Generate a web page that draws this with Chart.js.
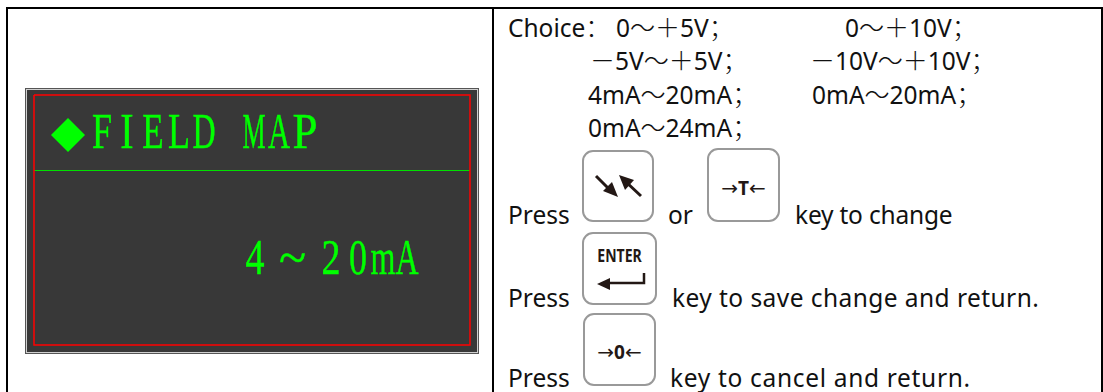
<!DOCTYPE html>
<html lang="en">
  <head>
    <meta charset="UTF-8" />
    <title>Field Map</title>
    <script src="https://cdn.jsdelivr.net/npm/chart.js"></script>
    <style>
      html, body {
        margin: 0;
        width: 1103px;
        height: 392px;
        overflow: hidden;
        background: #fff;
      }
      .rule { position: absolute; background: #000; }
      .txt {
        position: absolute;
        white-space: pre;
        line-height: 30px;
        height: 30px;
        font-family: "Noto Sans", "Noto Sans CJK SC", sans-serif;
        font-size: 24.5px;
        color: #111;
      }
      .txt .w { font-family: "Noto Sans CJK SC"; font-weight: 300; font-size: 25px; line-height: 20px; }
      #panel {
        position: absolute;
        left: 25px;
        top: 88px;
        width: 454px;
        height: 266px;
      }
      #panel canvas { position: absolute; left: 0; top: 0; }
      .lcd {
        position: absolute;
        left: 0;
        color: #00ff00;
        font-family: "Liberation Serif", serif;
        font-size: 50px;
        line-height: 50px;
        height: 50px;
        white-space: pre;
        -webkit-text-stroke: 0.5px #00ff00;
      }
      .lcd span { position: absolute; top: 0; width: 60px; margin-left: -30px; text-align: center; }
      .key {
        position: absolute;
        box-sizing: border-box;
        border: 2px solid #999;
        border-radius: 11px;
        background: #fff;
      }
      .key svg { position: absolute; left: -2px; top: -2px; overflow: visible; }
      .cap {
        position: absolute;
        left: 0;
        right: 0;
        text-align: center;
        white-space: pre;
        color: #231815;
        font-family: "Noto Sans", sans-serif;
        font-weight: 700;
      }
      .cap i { font: normal 20px "DejaVu Sans"; }
    </style>
  </head>
  <body>
    <div id="frame"></div>

    <!-- LCD screen -->
    <div id="panel"><canvas id="lcdChart" width="454" height="266"></canvas></div>

    <!-- Key caps -->
    <div class="key" style="left:582px;top:150px;width:72px;height:72px">
      <svg width="72" height="72">
        <path d="M14 26 L30 42" stroke="#231815" stroke-width="3" />
        <path d="M36 47 L21 41 L30 32 Z" fill="#231815" />
        <path d="M59 46 L43 31" stroke="#231815" stroke-width="3" />
        <path d="M37 25 L52 30 L43 40 Z" fill="#231815" />
      </svg>
    </div>
    <div class="key" style="left:707px;top:148px;width:73px;height:74px">
      <div class="cap" style="top:26px;font-size:19px;line-height:24px"><i>→</i>T<i>←</i></div>
    </div>
    <div class="key" style="left:582px;top:232px;width:75px;height:73px">
      <div class="cap" style="top:9px;font-size:18px;line-height:24px;transform:scaleX(.78)">ENTER</div>
      <svg width="75" height="73">
        <path d="M62 41 V51 H24" fill="none" stroke="#231815" stroke-width="2.5" />
        <path d="M15 52 L28 46 V58 Z" fill="#231815" />
      </svg>
    </div>
    <div class="key" style="left:583px;top:313px;width:73px;height:73px">
      <div class="cap" style="top:24px;font-size:19px;line-height:26px"><i>→</i>0<i>←</i></div>
    </div>

    <script>
      // Screen content
      const titleMarker = [{ x: 68, y: 135 }];
      const titleText = "FIELD MAP";
      const titleCenters = [102, 126.5, 152.5, 179, 203.5, 228, 253.5, 279, 304.5];
      const titleStretch = [0.72, 0.8, 0.7, 0.72, 0.64, 1, 0.52, 0.61, 0.9];
      const valueText = "4~20mA";
      const valueCenters = [254.5, 292.5, 330.5, 358, 382.5, 406.5];
      const valueStretch = [0.76, 1, 0.76, 0.72, 0.64, 0.64];

      // Page coordinates, the chart scales below run in the same numbers
      const redBoxX = [34, 470, 470, 34, 34];
      const redBoxY = [95, 95, 345, 345, 95];
      const dividerX = [34, 470];
      const dividerY = [170.5, 170.5];

      // Right hand column: text, left, baseline, letter spacing
      const choiceLines = [
        ["Choice<w>：</w>", 508, 37, 0],
        ["0<w>～＋</w>5V<w>；</w>", 616, 37, 0],
        ["0<w>～＋</w>10V<w>；</w>", 845, 37, 0],
        ["<w>－</w>5V<w>～＋</w>5V<w>；</w>", 590, 70, 0],
        ["<w>－</w>10V<w>～＋</w>10V<w>；</w>", 810, 70, 0],
        ["4mA<w>～</w>20mA<w>；</w>", 588, 104, 0],
        ["0mA<w>～</w>20mA<w>；</w>", 812, 104, 0],
        ["0mA<w>～</w>24mA<w>；</w>", 588, 137, 0],
        ["Press", 508, 224, 0],
        ["or", 668, 224, 0],
        ["key to change", 795, 224, -0.2],
        ["Press", 508, 307, 0],
        ["key to save change and return.", 672, 307, 0.44],
        ["Press", 508, 387, 0],
        ["key to cancel and return.", 670, 387, 0.68],
      ];

      // Table rules: left, top, width, height
      const tableRules = [
        [6, 7, 1097, 2],
        [6, 7, 2, 385],
        [492, 7, 2, 385],
        [1101, 7, 2, 385],
      ];

      const frame = document.getElementById("frame");
      tableRules.forEach(([l, t, w, h]) => {
        frame.insertAdjacentHTML(
          "beforeend",
          `<div class="rule" style="left:${l}px;top:${t}px;width:${w}px;height:${h}px"></div>`
        );
      });

      choiceLines.forEach(([text, left, base, gap]) => {
        const html = text.replace(/<w>/g, '<span class="w">').replace(/<\/w>/g, "</span>");
        frame.insertAdjacentHTML(
          "beforeend",
          `<div class="txt" style="left:${left}px;top:${base - 24}px;letter-spacing:${gap}px">${html}</div>`
        );
      });

      // The screen font is a half width bitmap one, so each glyph is placed and narrowed by hand
      function lcdLine(text, centers, stretch, top) {
        const panel = document.getElementById("panel");
        const spans = [...text]
          .map(
            (c, i) =>
              `<span style="left:${centers[i] - 25}px;transform:scaleX(${stretch[i]})">${c}</span>`
          )
          .join("");
        panel.insertAdjacentHTML(
          "beforeend",
          `<div class="lcd" style="top:${top - 88}px">${spans}</div>`
        );
      }
      lcdLine(titleText, titleCenters, titleStretch, 106);
      lcdLine(valueText, valueCenters, valueStretch, 232);

      // Panel background and bevel
      const panelFill = {
        id: "panelFill",
        beforeDraw(chart) {
          const { ctx, width, height } = chart;
          ctx.save();
          ctx.fillStyle = "#383838";
          ctx.fillRect(0, 0, width, height);
          ctx.strokeStyle = "#555555";
          ctx.lineWidth = 1;
          ctx.strokeRect(0.5, 0.5, width - 1, height - 1);
          ctx.strokeStyle = "#d0d0d0";
          ctx.strokeRect(1.5, 1.5, width - 3, height - 3);
          ctx.restore();
        },
      };

      const toPoints = (xs, ys) => xs.map((x, i) => ({ x, y: ys[i] }));

      new Chart(document.getElementById("lcdChart"), {
        type: "scatter",
        data: {
          datasets: [
            {
              data: toPoints(redBoxX, redBoxY),
              showLine: true,
              borderColor: "#ff0000",
              borderWidth: 1.5,
              pointRadius: 0,
            },
            {
              data: toPoints(dividerX, dividerY),
              showLine: true,
              borderColor: "#00e000",
              borderWidth: 1,
              pointRadius: 0,
            },
            {
              data: titleMarker,
              pointStyle: "rectRot",
              pointRadius: 17,
              backgroundColor: "#00ff00",
              borderWidth: 0,
            },
          ],
        },
        options: {
          responsive: false,
          animation: false,
          layout: { padding: 0, autoPadding: false },
          plugins: { legend: { display: false }, tooltip: { enabled: false } },
          scales: {
            x: { type: "linear", display: false, min: 25, max: 479 },
            y: { type: "linear", display: false, reverse: true, min: 88, max: 354 },
          },
        },
        plugins: [panelFill],
      });
    </script>
  </body>
</html>
